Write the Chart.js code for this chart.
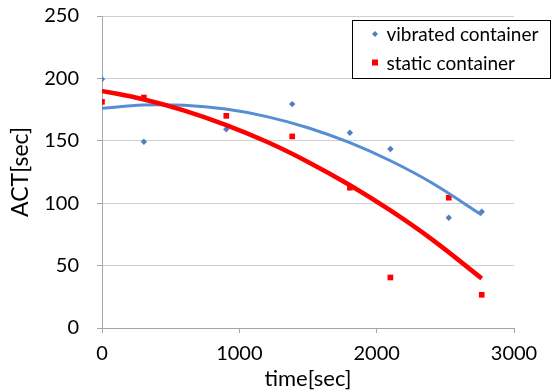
<!DOCTYPE html>
<html>
<head>
<meta charset="utf-8">
<script src="https://cdn.jsdelivr.net/npm/chart.js@4/dist/chart.umd.min.js"></script>
<style>
  html, body { margin: 0; padding: 0; background: #fff; }
  #wrap { width: 552px; height: 392px; }
</style>
</head>
<body>
<div id="wrap"><canvas id="c" width="552" height="392"></canvas></div>
<script>
// ---- data ----
const seriesNames = ['vibrated container', 'static container'];
const timeSec = [0, 305, 905, 1385, 1805, 2100, 2525, 2765];
const vibratedACT = [199.4, 149.2, 159.3, 179.4, 156.4, 143.4, 88.4, 93.2];
const staticACT = [181.2, 184.7, 170.0, 153.5, 112.4, 40.5, 104.4, 26.6];
// trend curves (polynomial trendlines)
const trendTime = [0, 300, 600, 900, 1200, 1500, 1800, 2100, 2400, 2765];
const vibratedTrend = [176, 178.7, 178.5, 175.4, 169.4, 160.5, 148.7, 134, 116.4, 90.6];
const staticTrend = [190, 183.3, 174.2, 162.8, 149.2, 133.1, 114.8, 94.2, 71.2, 39.7];
const xTicks = [0, 1000, 2000, 3000];
const yTicks = [0, 50, 100, 150, 200, 250];
const xTitle = 'time[sec]';
const yTitle = 'ACT[sec]';

const FONT = 'Lato';
const toPts = (xs, ys) => xs.map((x, i) => ({x: x, y: ys[i]}));

const legendPlugin = {
  id: 'boxLegend',
  afterDraw(chart) {
    const ctx = chart.ctx;
    ctx.save();
    const bx = 352.5, by = 20.5, bw = 198, bh = 58;
    ctx.fillStyle = '#fff';
    ctx.fillRect(bx, by, bw, bh);
    ctx.strokeStyle = '#000';
    ctx.lineWidth = 1;
    ctx.strokeRect(bx, by, bw, bh);
    ctx.font = '19px ' + FONT;
    ctx.textBaseline = 'middle';
    ctx.textAlign = 'left';
    const rows = [34, 62.5];
    ctx.fillStyle = '#4F81BD';
    ctx.beginPath();
    ctx.moveTo(375, rows[0] - 3);
    ctx.lineTo(378, rows[0]);
    ctx.lineTo(375, rows[0] + 3);
    ctx.lineTo(372, rows[0]);
    ctx.closePath();
    ctx.fill();
    ctx.fillStyle = '#FF0000';
    ctx.fillRect(372, rows[1] - 3, 6, 6);
    ctx.fillStyle = '#000';
    ctx.fillText(seriesNames[0], 386.5, rows[0] + 1);
    ctx.fillText(seriesNames[1], 386.5, rows[1] + 1);
    ctx.restore();
  }
};

new Chart(document.getElementById('c'), {
  type: 'scatter',
  data: {
    datasets: [
      { label: seriesNames[1] + ' trend', data: toPts(trendTime, staticTrend), showLine: true,
        borderColor: '#FF0000', borderWidth: 4.5, pointRadius: 0, tension: 0.4, fill: false },
      { label: seriesNames[0] + ' trend', data: toPts(trendTime, vibratedTrend), showLine: true,
        borderColor: '#558ED5', borderWidth: 3, pointRadius: 0, tension: 0.4, fill: false },
      { label: seriesNames[0], data: toPts(timeSec, vibratedACT), pointStyle: 'rectRot',
        pointRadius: 3.2, backgroundColor: '#4F81BD', borderColor: '#4F81BD', borderWidth: 0 },
      { label: seriesNames[1], data: toPts(timeSec, staticACT), pointStyle: 'rect',
        pointRadius: 4, backgroundColor: '#FF0000', borderColor: '#FF0000', borderWidth: 0 }
    ]
  },
  options: {
    responsive: false,
    devicePixelRatio: 1,
    animation: false,
    layout: { padding: { top: 16, right: 38, left: 0, bottom: 0 } },
    plugins: { legend: { display: false }, tooltip: { enabled: false } },
    scales: {
      x: {
        type: 'linear', min: 0, max: 3000,
        afterBuildTicks: s => { s.ticks = xTicks.map(v => ({value: v})); },
        afterFit: s => { s.height = 64; s.paddingLeft = 0; s.paddingRight = 0; },
        ticks: { color: '#000', font: { family: FONT, size: 20 }, padding: 9, maxRotation: 0,
                 callback: v => String(v) },
        grid: { drawOnChartArea: false, tickLength: 5, tickColor: '#A6A6A6' },
        border: { color: '#A6A6A6', width: 1 },
        title: { display: true, text: xTitle, color: '#000', font: { family: FONT, size: 22 },
                 padding: { top: 0, bottom: 0 } }
      },
      y: {
        type: 'linear', min: 0, max: 250,
        afterBuildTicks: s => { s.ticks = yTicks.map(v => ({value: v})); },
        afterFit: s => { s.width = 102; s.paddingTop = 0; s.paddingBottom = 0; },
        ticks: { color: '#000', font: { family: FONT, size: 20 }, padding: 18,
                 callback: v => String(v) },
        grid: { color: '#D0D0D0', tickLength: 5, tickColor: '#A6A6A6' },
        border: { color: '#A6A6A6', width: 1 },
        title: { display: true, text: yTitle, color: '#000', font: { family: FONT, size: 23 },
                 padding: { top: 7, bottom: 0 } }
      }
    }
  },
  plugins: [legendPlugin]
});
</script>
</body>
</html>
